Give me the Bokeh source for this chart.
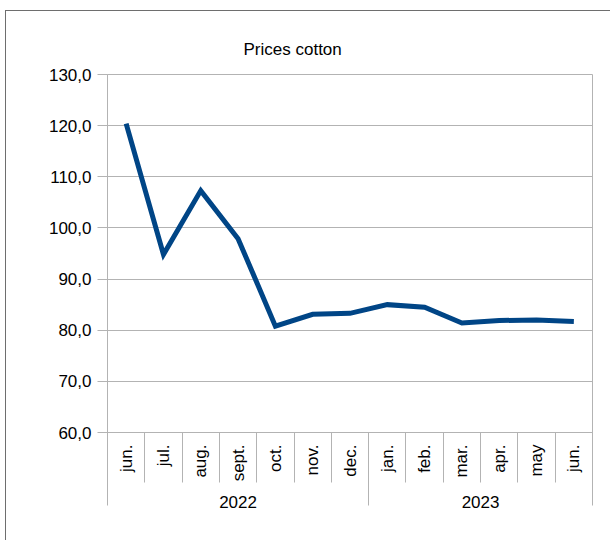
import math
from bokeh.plotting import figure
from bokeh.models import FactorRange, Range1d, FixedTicker, LinearAxis, ColumnDataSource
from bokeh.embed import file_html
from bokeh.resources import INLINE

# ---- data ----
years = ["2022"] * 7 + ["2023"] * 6
months = ["jun.", "jul.", "aug.", "sept.", "oct.", "nov.", "dec.",
          "jan.", "feb.", "mar.", "apr.", "may", "jun."]
prices = [120.4, 94.8, 107.3, 97.9, 80.8, 83.1, 83.3, 85.0, 84.5, 81.4, 81.9, 82.0, 81.7]
y_ticks = [60, 70, 80, 90, 100, 110, 120, 130]
y_tick_labels = ["60,0", "70,0", "80,0", "90,0", "100,0", "110,0", "120,0", "130,0"]
title_text = "Prices cotton"

factors = list(zip(years, months))
n = len(factors)
year_names = sorted(set(years))
year_bounds = [0]
for yv in year_names:
    year_bounds.append(year_bounds[-1] + years.count(yv))

FONT = "Liberation Sans"
GRID = "#b3b3b3"

p = figure(
    x_range=FactorRange(factors=factors, group_padding=0, factor_padding=0, range_padding=0),
    y_range=Range1d(y_ticks[0], y_ticks[-1]),
    width=605, height=530,
    output_backend="svg", toolbar_location=None,
    min_border_left=101, min_border_right=19, min_border_top=63, min_border_bottom=109,
)
p.styles = {"margin-left": "5px", "margin-top": "10px",
            "border-left": "1px solid #6e6e6e", "border-top": "1px solid #6e6e6e"}

src = ColumnDataSource(dict(x=factors, y=prices))
p.line("x", "y", source=src, line_color="#004586", line_width=5, line_join="miter")

# title
p.title.text = title_text
p.title.text_font = FONT
p.title.text_font_size = "17px"
p.title.text_font_style = "normal"
p.title.text_color = "#000000"
p.title.align = "left"
p.title.offset = 136
p.title.standoff = 31

# frame / grid
p.outline_line_color = GRID
p.xgrid.visible = False
p.ygrid.grid_line_color = GRID
p.background_fill_color = "white"
p.border_fill_color = "white"

# y axis
p.yaxis.ticker = FixedTicker(ticks=y_ticks)
p.yaxis.major_label_overrides = {t: l for t, l in zip(y_ticks, y_tick_labels)}
p.yaxis.axis_line_color = GRID
p.yaxis.major_tick_line_color = GRID
p.yaxis.major_tick_out = 10
p.yaxis.major_tick_in = 0
p.yaxis.minor_tick_line_color = None
p.yaxis.major_label_standoff = 6
p.yaxis.major_label_text_font = FONT
p.yaxis.major_label_text_font_size = "17px"
p.yaxis.major_label_text_color = "#000000"

# categorical x axis (months + year groups)
xa = p.xaxis[0]
xa.axis_line_color = GRID
xa.major_tick_line_color = None
xa.major_tick_out = 0
xa.major_tick_in = 0
xa.major_label_orientation = math.pi / 2
xa.major_label_standoff = 12
xa.major_label_text_font = FONT
xa.major_label_text_font_size = "17px"
xa.major_label_text_color = "#000000"
xa.group_text_font = FONT
xa.group_text_font_size = "17px"
xa.group_text_font_style = "normal"
xa.group_text_color = "#000000"
xa.separator_line_color = None


def sep_axis(bounds, length):
    # zero-size axis whose ticks hang below the frame (negative "in" length)
    ax = LinearAxis(ticker=FixedTicker(ticks=bounds, minor_ticks=[]))
    ax.axis_line_color = None
    ax.major_tick_out = 0
    ax.major_tick_in = -length
    ax.major_tick_line_color = GRID
    ax.minor_tick_line_color = None
    ax.major_label_text_color = None
    ax.major_label_standoff = 0
    return ax


s1 = sep_axis(list(range(n + 1)), 50)   # between months
s2 = sep_axis(year_bounds, 73)          # between years
p.below = [s1, s2, xa]

open("out.html", "w").write(file_html(p, INLINE))
